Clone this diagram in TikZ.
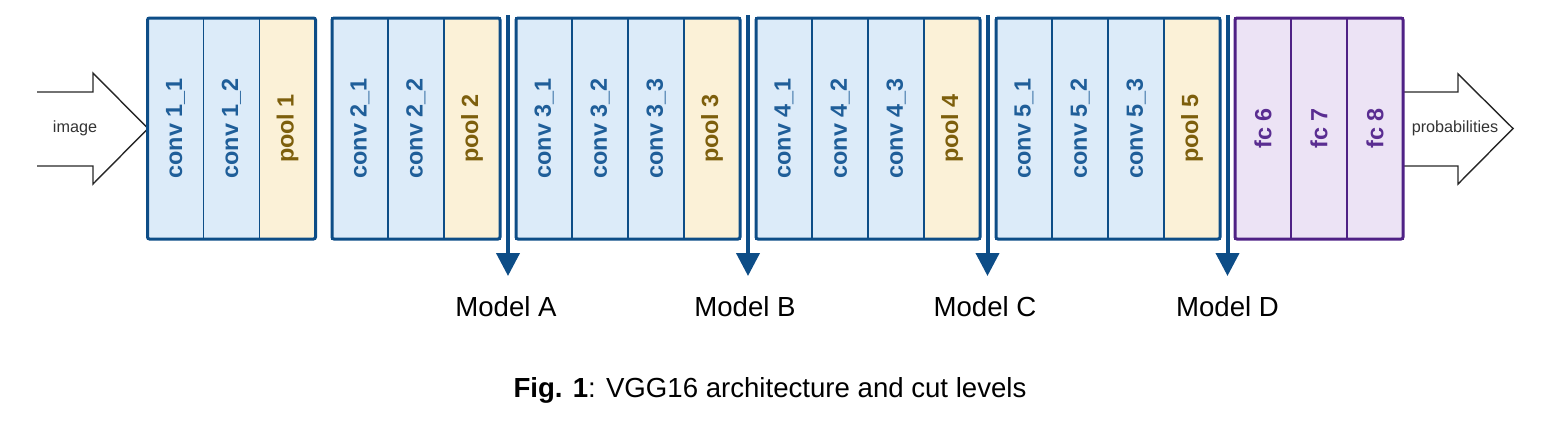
\documentclass[tikz,border=0pt]{standalone}
\usepackage{fontspec}
\setmainfont{Liberation Sans}
\usetikzlibrary{arrows.meta}

\definecolor{convfill}{HTML}{DCEBF9}
\definecolor{poolfill}{HTML}{FBF1D7}
\definecolor{fcfill}{HTML}{ECE3F5}
\definecolor{netblue}{HTML}{0D4D87}
\definecolor{convtext}{HTML}{1F5E99}
\definecolor{pooltext}{HTML}{7D5F0C}
\definecolor{fcline}{HTML}{4F2185}
\definecolor{fctext}{HTML}{5A2D91}

\tikzset{
  layer/.style={rotate=90, minimum width=110.5pt, minimum height=28pt, inner sep=0pt,
    line width=0.6pt, font=\fontsize{11.7}{14}\selectfont\bfseries},
  conv/.style={layer, draw=netblue, fill=convfill, text=convtext},
  pool/.style={layer, draw=netblue, fill=poolfill, text=pooltext},
  fc/.style={layer, draw=fcline, fill=fcfill, text=fctext},
  blockframe/.style={line width=1.5pt, rounded corners=1pt},
  cutarrow/.style={line width=2pt, draw=netblue, -{Triangle[width=11.5pt,length=11.5pt]}},
  bigarrow/.style={line width=0.7pt, draw=black!85, line join=miter},
  model/.style={font=\fontsize{13.8}{16}\selectfont, anchor=base},
  arrowtext/.style={font=\fontsize{8.1}{10}\selectfont, text=black!80},
}

\begin{document}
\begin{tikzpicture}[x=0.5pt, y=-0.5pt]
    \useasboundingbox (0,0) rectangle (1550,430);

    % Input and output arrows
    \draw[bigarrow] (37,92) -- (93,92) -- (93,73) -- (148,128.5) -- (93,184) -- (93,166) -- (37,166);
    \node[arrowtext] (image) at (75,128.5) {image};
    \draw[bigarrow] (1403,92) -- (1458,92) -- (1458,74) -- (1513,128.5) -- (1458,184) -- (1458,166) -- (1403,166);
    \node[arrowtext] (probs) at (1455,128.5) {probabilities};

    % Block 1
    \node[conv] (c11) at (175.5,128.5) {conv 1\_1};
    \node[conv] (c12) at (231.5,128.5) {conv 1\_2};
    \node[pool] (p1) at (287.5,128.5) {pool 1};
    \draw[blockframe, netblue] (147.5,18) rectangle (315.5,239);

    % Block 2
    \node[conv] (c21) at (360,128.5) {conv 2\_1};
    \node[conv] (c22) at (416,128.5) {conv 2\_2};
    \node[pool] (p2) at (472,128.5) {pool 2};
    \draw[blockframe, netblue] (332,18) rectangle (500,239);

    % Block 3
    \node[conv] (c31) at (544,128.5) {conv 3\_1};
    \node[conv] (c32) at (600,128.5) {conv 3\_2};
    \node[conv] (c33) at (656,128.5) {conv 3\_3};
    \node[pool] (p3) at (712,128.5) {pool 3};
    \draw[blockframe, netblue] (516,18) rectangle (740,239);

    % Block 4
    \node[conv] (c41) at (784,128.5) {conv 4\_1};
    \node[conv] (c42) at (840,128.5) {conv 4\_2};
    \node[conv] (c43) at (896,128.5) {conv 4\_3};
    \node[pool] (p4) at (952,128.5) {pool 4};
    \draw[blockframe, netblue] (756,18) rectangle (980,239);

    % Block 5
    \node[conv] (c51) at (1024,128.5) {conv 5\_1};
    \node[conv] (c52) at (1080,128.5) {conv 5\_2};
    \node[conv] (c53) at (1136,128.5) {conv 5\_3};
    \node[pool] (p5) at (1192,128.5) {pool 5};
    \draw[blockframe, netblue] (996,18) rectangle (1220,239);

    % Fully connected block
    \node[fc] (fc6) at (1263,128.5) {fc 6};
    \node[fc] (fc7) at (1319,128.5) {fc 7};
    \node[fc] (fc8) at (1375,128.5) {fc 8};
    \draw[blockframe, fcline] (1235,18) rectangle (1403,239);

    % Cut levels
    \coordinate (cutA) at (508,15);   \coordinate (endA) at (508,276);
    \coordinate (cutB) at (748,15);   \coordinate (endB) at (748,276);
    \coordinate (cutC) at (987.5,15); \coordinate (endC) at (987.5,276);
    \coordinate (cutD) at (1227.5,15);\coordinate (endD) at (1227.5,276);
    \draw[cutarrow] (cutA) -- (endA);
    \draw[cutarrow] (cutB) -- (endB);
    \draw[cutarrow] (cutC) -- (endC);
    \draw[cutarrow] (cutD) -- (endD);

    % Labels
    \node[model] (modelA) at (506,316) {Model A};
    \node[model] (modelB) at (745,316) {Model B};
    \node[model] (modelC) at (985,316) {Model C};
    \node[model] (modelD) at (1227.5,316) {Model D};

    \node[model] (caption) at (770,397) {\textbf{Fig. 1}: VGG16 architecture and cut levels};
\end{tikzpicture}
\end{document}
